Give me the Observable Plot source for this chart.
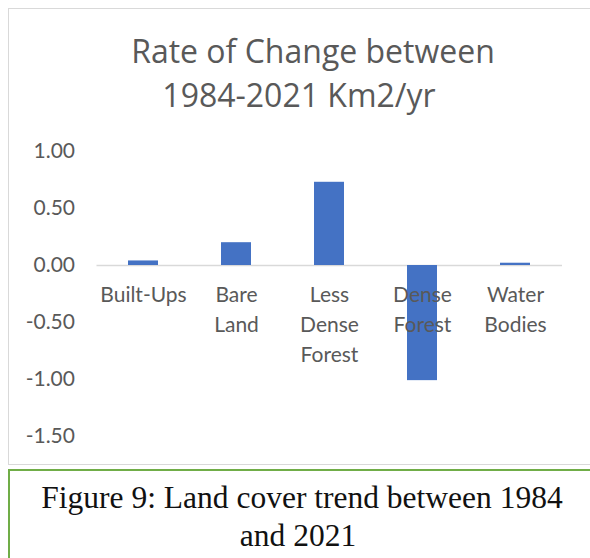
<!DOCTYPE html>
<html>
<head>
<meta charset="utf-8">
<script src="https://cdn.jsdelivr.net/npm/d3@7"></script>
<script src="https://cdn.jsdelivr.net/npm/@observablehq/plot@0.6"></script>
<style>
  html, body { margin: 0; padding: 0; background: #fff; width: 590px; height: 558px; overflow: hidden; }
  #page { position: relative; width: 590px; height: 558px; }
  #chartbox { position: absolute; left: 8px; top: 8px; width: 620px; height: 457px; border: 1px solid #d9d9d9; box-sizing: border-box; }
  .title { position: absolute; transform: translateX(-50%); white-space: nowrap; font-family: "Open Sans", sans-serif; font-size: 32px; color: #595959; line-height: 1; }
  #plot { position: absolute; left: 0; top: 130px; }
  #capbox { position: absolute; left: 8px; top: 469px; width: 620px; height: 120px; border: 2px solid #70ad47; box-sizing: border-box; }
  .cap { position: absolute; transform: translateX(-50%); white-space: nowrap; font-family: "Liberation Serif", "Times New Roman", serif; font-size: 31.5px; color: #111; line-height: 1; }
</style>
</head>
<body>
<div id="page">
  <div id="chartbox"></div>
  <div class="title" style="left:313px; top:35px;">Rate of Change between</div>
  <div class="title" style="left:299px; top:79px;">1984-2021 Km2/yr</div>
  <div id="plot"></div>
  <div id="capbox"></div>
  <div class="cap" style="left:302px; top:482px;">Figure 9: Land cover trend between 1984</div>
  <div class="cap" style="left:298px; top:520px;">and 2021</div>
</div>
<script>
const categories = ["Built-Ups", "Bare Land", "Less Dense Forest", "Dense Forest", "Water Bodies"];
const labels = ["Built-Ups", "Bare\nLand", "Less\nDense\nForest", "Dense\nForest", "Water\nBodies"];
const values = [0.04, 0.20, 0.73, -1.01, 0.02];
const yTicks = [1.0, 0.5, 0.0, -0.5, -1.0, -1.5];

const data = categories.map((c, i) => ({category: c, label: labels[i], value: values[i]}));

const chart = Plot.plot({
  width: 590,
  height: 330,
  marginLeft: 96.5,
  marginRight: 28,
  marginTop: 21,
  marginBottom: 24,
  style: {fontFamily: "Lato, 'Open Sans', sans-serif", color: "#595959", background: "transparent"},
  x: {domain: categories, paddingInner: 0.68, paddingOuter: 0.34, axis: null},
  y: {domain: [-1.5, 1.0], label: null},
  marks: [
    Plot.axisY({ticks: yTicks, label: null, tickSize: 0, tickPadding: 22, fontSize: 21, tickFormat: d => d.toFixed(2), fill: "#595959"}),
    Plot.ruleY([0], {stroke: "#d9d9d9", strokeWidth: 1.5}),
    Plot.barY(data, {x: "category", y: "value", fill: "#4472c4"}),
    Plot.text(data, {x: "category", y: () => 0, text: "label", lineAnchor: "top", dy: 15, fontSize: 21, lineHeight: 30 / 21, fill: "#595959"})
  ]
});
document.getElementById("plot").appendChild(chart);
</script>
</body>
</html>
